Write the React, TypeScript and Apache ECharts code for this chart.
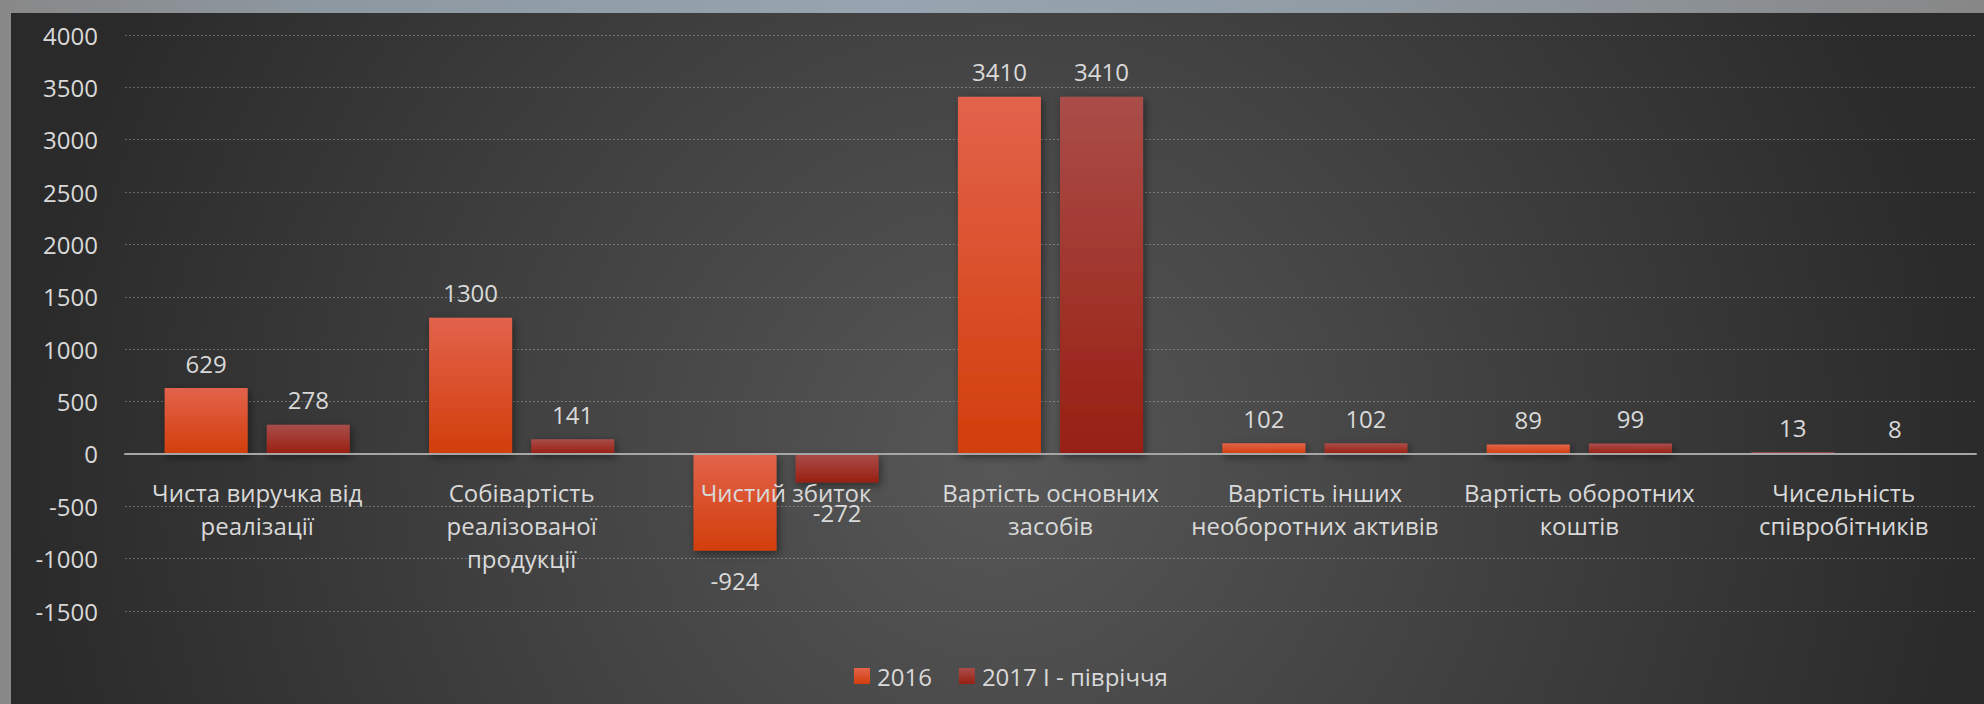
import React, { useEffect, useRef } from "react";
import * as echarts from "echarts";

const categories: string[] = [
  "Чиста виручка від\nреалізації",
  "Собівартість\nреалізованої\nпродукції",
  "Чистий збиток",
  "Вартість основних\nзасобів",
  "Вартість інших\nнеоборотних активів",
  "Вартість оборотних\nкоштів",
  "Чисельність\nспівробітників",
];
const seriesNames: string[] = ["2016", "2017 I - півріччя"];
const values2016: number[] = [629, 1300, -924, 3410, 102, 89, 13];
const values2017: number[] = [278, 141, -272, 3410, 102, 99, 8];
const yMin = -1500;
const yMax = 4000;
const yInterval = 500;

const FONT = "'Open Sans', 'Noto Sans', sans-serif";
const TEXT = "#d9d9d9";

const CHART_W = 1973;
const CHART_H = 691;
const GRID_TOP = 22;
const GRID_BOTTOM = 93;

function grad(top: string, bottom: string) {
  return new echarts.graphic.LinearGradient(0, 0, 0, 1, [
    { offset: 0, color: top },
    { offset: 1, color: bottom },
  ]);
}

function toItems(vals: number[]) {
  return vals.map((v) => ({
    value: v,
    label: { position: v < 0 ? "bottom" : "top", distance: v < 0 ? 18 : 13 },
  }));
}

export default function App() {
  const ref = useRef<HTMLDivElement>(null);
  useEffect(() => {
    if (!ref.current) return;
    const chart = echarts.init(ref.current, null, { renderer: "svg" });
    // offset that puts the category axis on the zero line
    const plotH = CHART_H - GRID_TOP - GRID_BOTTOM;
    const zeroFromBottom = ((0 - yMin) / (yMax - yMin)) * plotH;
    const barCommon = {
      type: "bar",
      barGap: "23%",
      barCategoryGap: "30%",
      label: {
        show: true,
        color: TEXT,
        fontSize: 24,
        fontFamily: FONT,
      },
    };
    chart.setOption({
      animation: false,
      backgroundColor: "transparent",
      textStyle: { fontFamily: FONT },
      grid: {
        left: 114,
        right: 8,
        top: GRID_TOP,
        bottom: GRID_BOTTOM,
        containLabel: false,
        outerBoundsMode: "none",
      },
      legend: {
        data: seriesNames,
        left: 838,
        top: 646,
        itemWidth: 16,
        itemHeight: 16,
        itemGap: 27,
        icon: "rect",
        textStyle: { color: TEXT, fontSize: 24, fontFamily: FONT, padding: [0, 0, 0, 2] },
      },
      xAxis: {
        type: "category",
        data: categories,
        position: "bottom",
        offset: -zeroFromBottom,
        z: 10,
        axisTick: { show: false },
        axisLine: { show: true, onZero: false, lineStyle: { color: "#a6a6a6", width: 2 } },
        axisLabel: {
          interval: 0,
          color: TEXT,
          fontSize: 24,
          fontFamily: FONT,
          lineHeight: 33,
          margin: 22,
        },
        splitLine: { show: false },
      },
      yAxis: {
        type: "value",
        min: yMin,
        max: yMax,
        interval: yInterval,
        axisLine: { show: false },
        axisTick: { show: false },
        axisLabel: {
          color: TEXT,
          fontSize: 24,
          fontFamily: FONT,
          margin: 27,
          formatter: (v: number) => String(v),
        },
        splitLine: {
          show: true,
          lineStyle: { color: "rgba(255,255,255,0.28)", type: [2, 2], width: 1 },
        },
      },
      series: [
        {
          ...barCommon,
          name: seriesNames[0],
          data: toItems(values2016),
          itemStyle: {
            color: grad("#e2634b", "#d23e0b"),
            shadowBlur: 8,
            shadowOffsetX: 2,
            shadowOffsetY: 3,
            shadowColor: "rgba(0,0,0,0.45)",
          },
        },
        {
          ...barCommon,
          name: seriesNames[1],
          data: toItems(values2017),
          itemStyle: {
            color: grad("#aa4d49", "#981f12"),
            shadowBlur: 8,
            shadowOffsetX: 2,
            shadowOffsetY: 3,
            shadowColor: "rgba(0,0,0,0.45)",
          },
        },
      ],
    });
    return () => chart.dispose();
  }, []);

  return (
    <div
      style={{
        position: "fixed",
        left: 0,
        top: 0,
        width: 1984,
        height: 704,
        overflow: "hidden",
        background:
          "linear-gradient(90deg, #888888 0%, #8d979f 15%, #96a5b1 45%, #919ba3 70%, #878787 100%)",
      }}
    >
      <div
        style={{
          position: "absolute",
          left: 11,
          top: 13,
          width: CHART_W,
          height: CHART_H,
          background:
            "radial-gradient(ellipse 50% 140% at 50% 65%, #575757 0%, #2a2a2a 100%)",
        }}
      >
        <div ref={ref} style={{ width: CHART_W, height: CHART_H }} />
      </div>
    </div>
  );
}
